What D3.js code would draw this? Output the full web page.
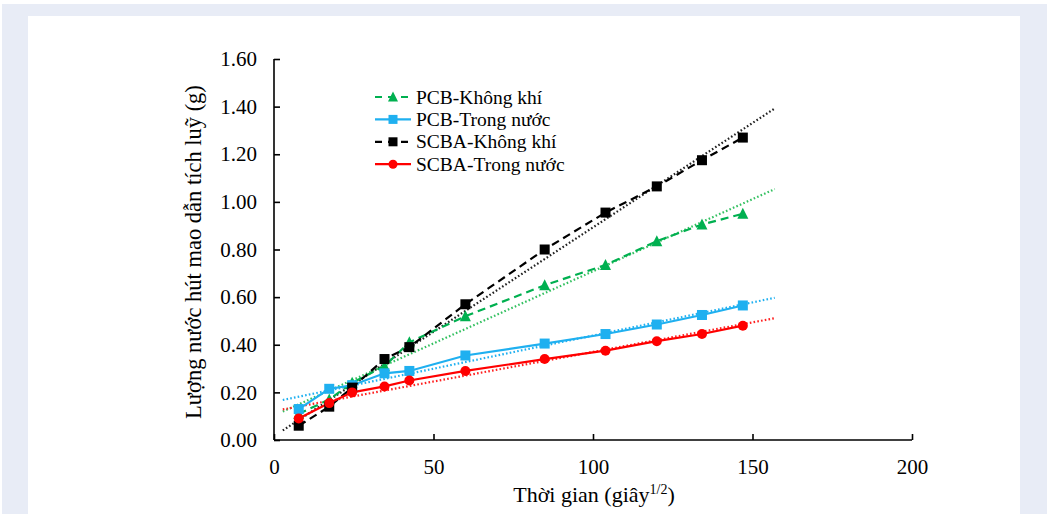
<!DOCTYPE html>
<html><head><meta charset="utf-8">
<script src="https://cdn.jsdelivr.net/npm/d3@7/dist/d3.min.js"></script>
<style>
html,body{margin:0;padding:0;background:#fff;}
svg{display:block;}
text{font-family:"Liberation Serif","Times New Roman",serif;fill:#000;}
</style></head>
<body>
<svg id="c" width="1047" height="514"></svg>
<script>
// time in seconds^(1/2)
const times = [7.75, 17.32, 24.49, 34.64, 42.43, 60, 84.85, 103.92, 120, 134.16, 146.97];
const pcbAir   = [0.11, 0.17, 0.24, 0.31, 0.41, 0.52, 0.65, 0.735, 0.835, 0.905, 0.95];
const pcbWater = [0.13, 0.215, 0.23, 0.28, 0.29, 0.355, 0.405, 0.445, 0.485, 0.525, 0.565];
const scbaAir  = [0.06, 0.14, 0.22, 0.34, 0.39, 0.57, 0.80, 0.955, 1.065, 1.175, 1.27];
const scbaWater= [0.09, 0.155, 0.20, 0.225, 0.25, 0.29, 0.34, 0.375, 0.415, 0.445, 0.48];
const seriesNames = ["PCB-Không khí", "PCB-Trong nước", "SCBA-Không khí", "SCBA-Trong nước"];
const xTicks = [0, 50, 100, 150, 200];
const yTicks = [0, 0.2, 0.4, 0.6, 0.8, 1.0, 1.2, 1.4, 1.6];
const trendBackward = 5, trendForward = 10;

const styles = [
  {values: pcbAir,   color:"#00b050", trend:"#33c060", dash:"8,5", marker:"triangle"},
  {values: pcbWater, color:"#1fb0f0", trend:"#1fb0f0", dash:null,  marker:"square"},
  {values: scbaAir,  color:"#000000", trend:"#222222", dash:"8,5", marker:"square"},
  {values: scbaWater,color:"#ff0000", trend:"#ff2020", dash:null,  marker:"circle"}
];

const svg = d3.select("#c");
svg.append("rect").attr("x",2).attr("y",4).attr("width",1045).attr("height",510).attr("fill","#e8ecf6");
svg.append("rect").attr("x",28).attr("y",16).attr("width",992).attr("height",498).attr("fill","#fff");

const x = d3.scaleLinear().domain([0,200]).range([274,912]);
const y = d3.scaleLinear().domain([0,1.6]).range([440,59]);

function fit(xs, ys){
  const n=xs.length, mx=d3.mean(xs), my=d3.mean(ys);
  let sxy=0,sxx=0;
  for(let i=0;i<n;i++){sxy+=(xs[i]-mx)*(ys[i]-my);sxx+=(xs[i]-mx)**2;}
  const b=sxy/sxx; return {a:my-b*mx,b};
}
const line = d3.line().x(d=>x(d[0])).y(d=>y(d[1]));
const plot = svg.append("g");
const x0 = times[0]-trendBackward, x1 = times[times.length-1]+trendForward;
styles.forEach(s=>{
  const f = fit(times, s.values);
  plot.append("path").attr("d", line([[x0,f.a+f.b*x0],[x1,f.a+f.b*x1]]))
    .attr("fill","none").attr("stroke",s.trend).attr("stroke-width",2.2)
    .attr("stroke-dasharray","1.6,2.2");
});
styles.forEach(s=>{
  const pts = times.map((t,i)=>[t,s.values[i]]);
  plot.append("path").attr("d", line(pts)).attr("fill","none")
    .attr("stroke",s.color).attr("stroke-width",2.2)
    .attr("stroke-dasharray", s.dash);
});
function marker(g, type, cx, cy, color, sz){
  if(type==="square") g.append("rect").attr("x",cx-sz/2).attr("y",cy-sz/2).attr("width",sz).attr("height",sz).attr("fill",color);
  else if(type==="circle") g.append("circle").attr("cx",cx).attr("cy",cy).attr("r",sz/2).attr("fill",color);
  else g.append("path").attr("d",`M${cx},${cy-sz/2-1}L${cx+sz/2+0.5},${cy+sz/2}L${cx-sz/2-0.5},${cy+sz/2}Z`).attr("fill",color);
}
styles.forEach(s=>{
  times.forEach((t,i)=>marker(plot, s.marker, x(t), y(s.values[i]), s.color, 10));
});

const xAxis = svg.append("g").attr("transform","translate(0,440)")
  .call(d3.axisBottom(x).tickValues(xTicks).tickSize(-6).tickPadding(19).tickFormat(d3.format("d")));
const yAxis = svg.append("g").attr("transform","translate(274,0)")
  .call(d3.axisLeft(y).tickValues(yTicks).tickSize(-6).tickPadding(17).tickFormat(d3.format(".2f")));
[xAxis,yAxis].forEach(a=>{
  a.select(".domain").attr("stroke","#000").attr("stroke-width",1.6);
  a.selectAll(".tick line").attr("stroke","#000").attr("stroke-width",1.6);
  a.selectAll(".tick text").attr("font-size",21).attr("font-family","Liberation Serif").attr("fill","#000");
});
xAxis.select(".domain").attr("d","M274,0H912");
yAxis.select(".domain").attr("d","M0,440V59");

const xt = svg.append("text").attr("x",594).attr("y",502).attr("text-anchor","middle").attr("font-size",22);
xt.append("tspan").text("Thời gian (giây");
xt.append("tspan").attr("font-size",14).attr("dy",-8).text("1/2");
xt.append("tspan").attr("dy",8).text(")");
svg.append("text").attr("transform","translate(201,252) rotate(-90)").attr("text-anchor","middle")
  .attr("font-size",22.5).text("Lượng nước hút mao dẫn tích luỹ (g)");

const lg = svg.append("g");
seriesNames.forEach((name,i)=>{
  const s = styles[i], yy = 97 + i*22.4;
  lg.append("line").attr("x1",375).attr("x2",411).attr("y1",yy).attr("y2",yy)
    .attr("stroke",s.color).attr("stroke-width",2.2).attr("stroke-dasharray", s.dash?"7,6":null);
  marker(lg, s.marker, 393, yy, s.color, 9);
  lg.append("text").attr("x",416).attr("y",yy+6.5).attr("font-size",19.5).text(name);
});
</script>
</body></html>
